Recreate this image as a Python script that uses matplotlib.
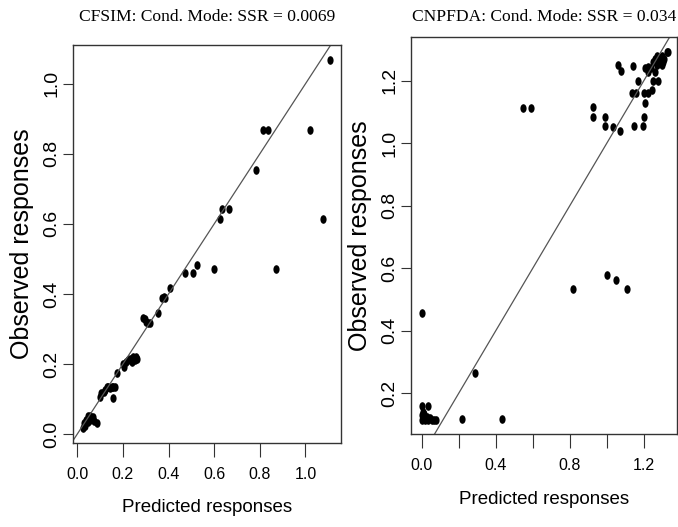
import numpy as np
import matplotlib
matplotlib.use("Agg")
import matplotlib.pyplot as plt
from matplotlib.path import Path
from matplotlib.markers import MarkerStyle
from matplotlib.transforms import Affine2D

# ---- data: CFSIM panel ----
cf_pred = [0.026, 0.030, 0.035, 0.040, 0.045, 0.048, 0.055, 0.057, 0.062, 0.068, 0.075, 0.088,
           0.100, 0.104, 0.115, 0.121, 0.130, 0.136, 0.145, 0.152, 0.158, 0.165, 0.158,
           0.173,
           0.202, 0.206, 0.215, 0.224, 0.232, 0.240, 0.245, 0.252, 0.258, 0.262,
           0.290, 0.296, 0.303, 0.310, 0.320,
           0.355, 0.373, 0.380, 0.385, 0.407,
           0.472, 0.506, 0.524, 0.601, 0.871,
           0.626, 0.635, 0.665, 1.079,
           0.784, 0.813, 0.838, 1.021, 1.109]
cf_obs = [0.017, 0.030, 0.022, 0.040, 0.035, 0.050, 0.040, 0.050, 0.042, 0.048, 0.038, 0.031,
          0.107, 0.116, 0.120, 0.126, 0.135, 0.135, 0.132, 0.135, 0.133, 0.135, 0.102,
          0.173,
          0.200, 0.190, 0.205, 0.211, 0.215, 0.205, 0.220, 0.210, 0.220, 0.215,
          0.332, 0.328, 0.320, 0.318, 0.316,
          0.345, 0.388, 0.390, 0.388, 0.416,
          0.459, 0.459, 0.483, 0.471, 0.471,
          0.613, 0.642, 0.642, 0.613,
          0.754, 0.869, 0.869, 0.869, 1.067]

# ---- data: CNPFDA panel ----
np_pred = [0.003, 0.288, 0.220, 0.432, 0.000, 0.032,
           0.000, 0.000, 0.010, 0.015, 0.020, 0.030, 0.035, 0.045, 0.055, 0.065, 0.075, 0.005,
           0.816, 1.000, 1.050, 1.111,
           0.549, 0.591, 0.928, 0.928, 0.991, 0.991, 1.032, 1.072, 1.149, 1.195, 1.200, 1.207,
           1.135, 1.160, 1.200, 1.225, 1.243,
           1.171, 1.252, 1.279,
           1.063, 1.076, 1.144, 1.207, 1.225, 1.225,
           1.240, 1.250, 1.260, 1.270, 1.280, 1.290, 1.300, 1.310, 1.270, 1.260, 1.300,
           1.324, 1.306, 1.333]
np_obs = [0.458, 0.266, 0.117, 0.117, 0.159, 0.159,
          0.115, 0.130, 0.120, 0.135, 0.115, 0.125, 0.115, 0.120, 0.115, 0.115, 0.115, 0.140,
          0.533, 0.578, 0.563, 0.533,
          1.112, 1.112, 1.117, 1.083, 1.083, 1.055, 1.051, 1.040, 1.055, 1.055, 1.083, 1.128,
          1.160, 1.160, 1.160, 1.160, 1.170,
          1.200, 1.200, 1.200,
          1.250, 1.232, 1.248, 1.240, 1.245, 1.229,
          1.240, 1.260, 1.270, 1.280, 1.260, 1.270, 1.250, 1.270, 1.250, 1.230, 1.280,
          1.293, 1.261, 1.293]

titles = ["CFSIM: Cond. Mode: SSR = 0.0069", "CNPFDA: Cond. Mode: SSR = 0.034"]
xlabel = "Predicted responses"
ylabel = "Observed responses"

left_xticks = [0.0, 0.2, 0.4, 0.6, 0.8, 1.0]
left_xticklabels = ["0.0", "0.2", "0.4", "0.6", "0.8", "1.0"]
left_yticks = [0.0, 0.2, 0.4, 0.6, 0.8, 1.0]
left_yticklabels = ["0.0", "0.2", "0.4", "0.6", "0.8", "1.0"]
right_xticks = [0.0, 0.2, 0.4, 0.6, 0.8, 1.0, 1.2]
right_xticklabels = ["0.0", "", "0.4", "", "0.8", "", "1.2"]
right_yticks = [0.2, 0.4, 0.6, 0.8, 1.0, 1.2]
right_yticklabels = ["0.2", "0.4", "0.6", "0.8", "1.0", "1.2"]

SANS = ["Liberation Sans", "DejaVu Sans"]
SERIF = ["Liberation Serif", "DejaVu Serif"]

W, H = 678, 527
fig = plt.figure(figsize=(W / 100, H / 100), dpi=100)

ell = Path.unit_circle().transformed(Affine2D().scale(0.72, 1.0))
marker = MarkerStyle(ell)

def px_axes(l, t, r, b):
    return [l / W, 1 - b / H, (r - l) / W, (b - t) / H]

specs = [
    dict(rect=px_axes(73, 45, 341, 443), x=cf_pred, y=cf_obs, title=titles[0],
         xlim=(-0.0189, 1.156), ylim=(-0.0257, 1.111),
         xt=left_xticks, xtl=left_xticklabels, yt=left_yticks, ytl=left_yticklabels,
         title_y=(443 - 17) / 398, xl_y=-(507 - 443) / 398),
    dict(rect=px_axes(411, 37, 677, 434), x=np_pred, y=np_obs, title=titles[1],
         xlim=(-0.0578, 1.38), ylim=(0.0698, 1.3405),
         xt=right_xticks, xtl=right_xticklabels, yt=right_yticks, ytl=right_yticklabels,
         title_y=(434 - 17) / 397, xl_y=-(500 - 434) / 397),
]

for s in specs:
    ax = fig.add_axes(s["rect"])
    ax.plot(s["x"], s["y"], linestyle="none", marker=marker, ms=6.2,
            color="black", mec="black", mew=0)
    ax.axline((0, 0), slope=1, color="#555555", lw=0.9)
    ax.set_xlim(*s["xlim"])
    ax.set_ylim(*s["ylim"])
    ax.set_xticks(s["xt"])
    ax.set_xticklabels(s["xtl"], family=SANS, fontsize=11.5)
    ax.set_yticks(s["yt"])
    ax.set_yticklabels(s["ytl"], family=SANS, fontsize=14, rotation=90, va="center")
    ax.tick_params(axis="x", direction="out", length=10, width=0.8, color="#333333", pad=7)
    ax.tick_params(axis="y", direction="out", length=7.2, width=0.8, color="#333333", pad=2)
    for sp in ax.spines.values():
        sp.set_color("#333333")
        sp.set_linewidth(1.0)
    ax.set_xlabel(xlabel, family=SANS, fontsize=13.5, va="center")
    ax.xaxis.set_label_coords(0.5, s["xl_y"])
    ax.set_ylabel(ylabel, family=SANS, fontsize=18, va="center")
    ax.yaxis.set_label_coords(-0.192, 0.5)
    ax.set_title(s["title"], family=SERIF, fontsize=12.6, y=s["title_y"], va="center", pad=0)

fig.savefig("out.png", dpi=100)
